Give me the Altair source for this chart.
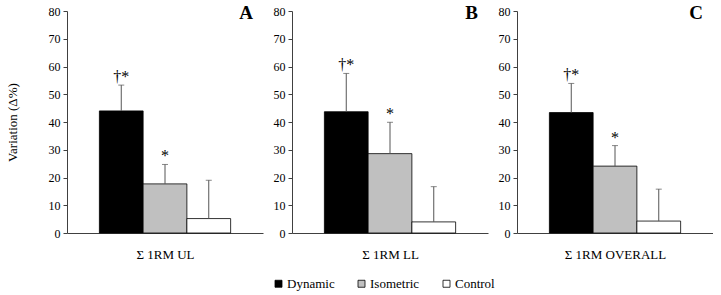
import altair as alt
import pandas as pd

# Groups and mean percentage change (with SD) for each 1RM sum
groups = ["Dynamic", "Isometric", "Control"]
fills = ["#000000", "#c0c0c0", "#ffffff"]
marks = ["†*", "*", ""]

ul_mean = [44.0, 17.7, 5.2]
ul_sd = [9.3, 7.0, 13.8]

ll_mean = [43.7, 28.6, 4.0]
ll_sd = [13.8, 11.3, 12.7]

overall_mean = [43.4, 24.1, 4.3]
overall_sd = [10.5, 7.4, 11.5]

FONT = "Liberation Serif"
W, H = 196, 222


def table(means, sds):
    return pd.DataFrame({
        "group": groups,
        "mean": means,
        "upper": [m + s for m, s in zip(means, sds)],
        "mark": marks,
    })


def panel(means, sds, xtitle, letter, ytitle, legend):
    df = table(means, sds)
    x_axis = alt.Axis(title=xtitle, labels=False, ticks=False,
                      domainColor="#404040", titlePadding=15,
                      titleFont=FONT, titleFontSize=13,
                      titleFontWeight="normal", titleColor="#000000")
    x_scale = alt.Scale(paddingInner=0, paddingOuter=0.74)
    y_axis = alt.Axis(
        title=ytitle if ytitle else "",
        values=list(range(0, 81, 10)), labelOverlap=False, grid=False,
        tickSize=4, tickColor="#404040", domainColor="#404040",
        labelFont=FONT, labelFontSize=12, labelPadding=3,
        labelColor="#000000", titleFont=FONT, titleFontSize=13,
        titleFontWeight="normal", titleColor="#000000", titlePadding=29,
    )
    y_scale = alt.Scale(domain=[0, 80], nice=False)

    def X():
        return alt.X("group:N", sort=groups, scale=x_scale, axis=x_axis)

    def Y(field):
        return alt.Y(field, scale=y_scale, axis=y_axis)

    color = alt.Color(
        "group:N", sort=groups,
        scale=alt.Scale(domain=groups, range=fills),
        legend=alt.Legend(
            title=None, orient="none", direction="horizontal",
            legendX=205, legendY=266, symbolType="square",
            symbolSize=49, symbolStrokeColor="#000000",
            symbolStrokeWidth=0.8, labelFont=FONT, labelFontSize=13,
            labelColor="#000000", labelOffset=2, columnPadding=20,
            symbolOpacity=1,
        ) if legend else None,
    )

    base = alt.Chart(df)
    bars = base.mark_bar(stroke="#000000", strokeWidth=0.8, opacity=1).encode(
        x=X(), y=Y("mean:Q"), color=color
    )
    err = base.mark_rule(color="#555555", strokeWidth=1).encode(
        x=X(), y=Y("mean:Q"), y2="upper:Q"
    )
    cap = base.mark_tick(color="#555555", orient="horizontal", size=6,
                         thickness=1).encode(
        x=X(), y=Y("upper:Q")
    )
    stars = base.mark_text(font=FONT, fontSize=16, baseline="alphabetic",
                           dy=-3, fill="#000000").encode(
        x=X(), y=Y("upper:Q"), text="mark:N"
    )
    tag = alt.Chart(pd.DataFrame({"t": [letter]})).mark_text(
        font=FONT, fontSize=19, fontWeight="bold", align="right",
        baseline="middle", fill="#000000",
    ).encode(x=alt.value(W - 10), y=alt.value(2), text="t:N")

    return alt.layer(bars, err, cap, stars, tag).properties(width=W, height=H)


chart = alt.hconcat(
    panel(ul_mean, ul_sd, "Σ 1RM UL", "A", "Variation (Δ%)", True),
    panel(ll_mean, ll_sd, "Σ 1RM LL", "B", None, False),
    panel(overall_mean, overall_sd, "Σ 1RM OVERALL", "C", None, False),
    spacing=10,
).configure(
    font=FONT,
).configure_view(
    stroke=None,
).properties(
    padding={"left": 6, "top": 4, "right": 0, "bottom": 0},
    background="white",
)

chart.save("out.html", embed_options={"renderer": "svg", "actions": False})
